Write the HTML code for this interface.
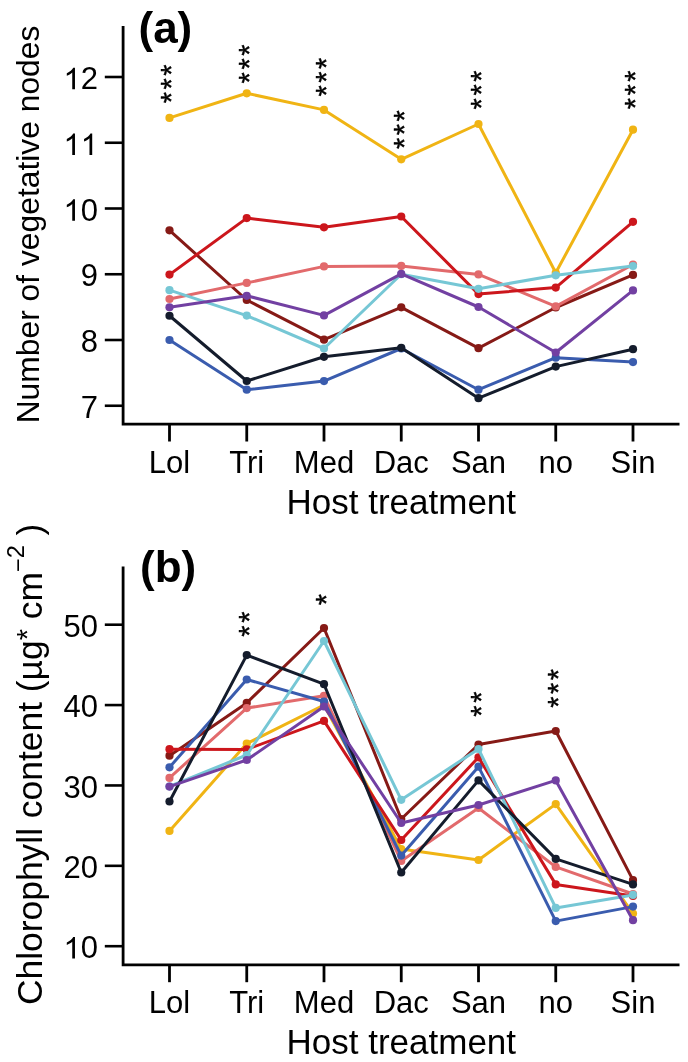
<!DOCTYPE html>
<html><head><meta charset="utf-8"><style>
html,body{margin:0;padding:0;background:#fff;}
svg{display:block;will-change:transform;}
.t{font-family:"Liberation Sans",sans-serif;font-size:31px;fill:#000;}
.tt{font-family:"Liberation Sans",sans-serif;font-size:35px;fill:#000;}
.ya{font-family:"Liberation Sans",sans-serif;font-size:31.8px;fill:#000;}
.yb{font-family:"Liberation Sans",sans-serif;font-size:35.4px;fill:#000;}
.pl{font-family:"Liberation Sans",sans-serif;font-size:44px;font-weight:bold;fill:#000;}
.st{font-family:"Liberation Sans",sans-serif;font-size:29px;fill:#000;stroke:#000;stroke-width:0.4px;}
</style></head><body>
<svg width="688" height="1062" viewBox="0 0 688 1062">
<rect width="688" height="1062" fill="#fff"/>
<path d="M123.1,26 V424.1 H679.5" fill="none" stroke="#000" stroke-width="2.8" stroke-linejoin="miter" stroke-linecap="butt"/>
<line x1="104.8" y1="405.75" x2="123.1" y2="405.75" stroke="#000" stroke-width="2.6"/>
<line x1="104.8" y1="340.0" x2="123.1" y2="340.0" stroke="#000" stroke-width="2.6"/>
<line x1="104.8" y1="274.25" x2="123.1" y2="274.25" stroke="#000" stroke-width="2.6"/>
<line x1="104.8" y1="208.5" x2="123.1" y2="208.5" stroke="#000" stroke-width="2.6"/>
<line x1="104.8" y1="142.75" x2="123.1" y2="142.75" stroke="#000" stroke-width="2.6"/>
<line x1="104.8" y1="77.0" x2="123.1" y2="77.0" stroke="#000" stroke-width="2.6"/>
<line x1="169.5" y1="424.1" x2="169.5" y2="441.5" stroke="#000" stroke-width="2.8"/>
<line x1="246.75" y1="424.1" x2="246.75" y2="441.5" stroke="#000" stroke-width="2.8"/>
<line x1="324" y1="424.1" x2="324" y2="441.5" stroke="#000" stroke-width="2.8"/>
<line x1="401.25" y1="424.1" x2="401.25" y2="441.5" stroke="#000" stroke-width="2.8"/>
<line x1="478.5" y1="424.1" x2="478.5" y2="441.5" stroke="#000" stroke-width="2.8"/>
<line x1="555.75" y1="424.1" x2="555.75" y2="441.5" stroke="#000" stroke-width="2.8"/>
<line x1="633" y1="424.1" x2="633" y2="441.5" stroke="#000" stroke-width="2.8"/>
<text x="80.66" y="417.95" class="t">7</text>
<text x="80.66" y="352.20" class="t">8</text>
<text x="80.66" y="286.45" class="t">9</text>
<path transform="translate(63.42,220.70) scale(0.015137,-0.015137)" d="M763 0H583V1098Q518 1038 412 979Q307 920 223 890V1057Q374 1124 487 1221Q600 1318 647 1409H763Z" fill="#000"/><text x="80.66" y="220.70" class="t">0</text>
<path transform="translate(63.42,154.95) scale(0.015137,-0.015137)" d="M763 0H583V1098Q518 1038 412 979Q307 920 223 890V1057Q374 1124 487 1221Q600 1318 647 1409H763Z" fill="#000"/><path transform="translate(80.66,154.95) scale(0.015137,-0.015137)" d="M763 0H583V1098Q518 1038 412 979Q307 920 223 890V1057Q374 1124 487 1221Q600 1318 647 1409H763Z" fill="#000"/>
<path transform="translate(63.42,89.20) scale(0.015137,-0.015137)" d="M763 0H583V1098Q518 1038 412 979Q307 920 223 890V1057Q374 1124 487 1221Q600 1318 647 1409H763Z" fill="#000"/><text x="80.66" y="89.20" class="t">2</text>
<text x="169.5" y="473" text-anchor="middle" class="t">Lol</text>
<text x="246.75" y="473" text-anchor="middle" class="t">Tri</text>
<text x="324" y="473" text-anchor="middle" class="t">Med</text>
<text x="401.25" y="473" text-anchor="middle" class="t">Dac</text>
<text x="478.5" y="473" text-anchor="middle" class="t">San</text>
<text x="555.75" y="473" text-anchor="middle" class="t">no</text>
<text x="633" y="473" text-anchor="middle" class="t">Sin</text>
<text x="401.3" y="513.5" text-anchor="middle" class="tt">Host treatment</text>
<path d="M123.1,566.6 V964.8000000000001 H679.5" fill="none" stroke="#000" stroke-width="2.8" stroke-linejoin="miter" stroke-linecap="butt"/>
<line x1="104.8" y1="946.2" x2="123.1" y2="946.2" stroke="#000" stroke-width="2.6"/>
<line x1="104.8" y1="865.825" x2="123.1" y2="865.825" stroke="#000" stroke-width="2.6"/>
<line x1="104.8" y1="785.45" x2="123.1" y2="785.45" stroke="#000" stroke-width="2.6"/>
<line x1="104.8" y1="705.075" x2="123.1" y2="705.075" stroke="#000" stroke-width="2.6"/>
<line x1="104.8" y1="624.7" x2="123.1" y2="624.7" stroke="#000" stroke-width="2.6"/>
<line x1="169.5" y1="964.8000000000001" x2="169.5" y2="982.2" stroke="#000" stroke-width="2.8"/>
<line x1="246.75" y1="964.8000000000001" x2="246.75" y2="982.2" stroke="#000" stroke-width="2.8"/>
<line x1="324" y1="964.8000000000001" x2="324" y2="982.2" stroke="#000" stroke-width="2.8"/>
<line x1="401.25" y1="964.8000000000001" x2="401.25" y2="982.2" stroke="#000" stroke-width="2.8"/>
<line x1="478.5" y1="964.8000000000001" x2="478.5" y2="982.2" stroke="#000" stroke-width="2.8"/>
<line x1="555.75" y1="964.8000000000001" x2="555.75" y2="982.2" stroke="#000" stroke-width="2.8"/>
<line x1="633" y1="964.8000000000001" x2="633" y2="982.2" stroke="#000" stroke-width="2.8"/>
<path transform="translate(63.42,958.40) scale(0.015137,-0.015137)" d="M763 0H583V1098Q518 1038 412 979Q307 920 223 890V1057Q374 1124 487 1221Q600 1318 647 1409H763Z" fill="#000"/><text x="80.66" y="958.40" class="t">0</text>
<text x="63.42" y="878.03" class="t">2</text><text x="80.66" y="878.03" class="t">0</text>
<text x="63.42" y="797.65" class="t">3</text><text x="80.66" y="797.65" class="t">0</text>
<text x="63.42" y="717.28" class="t">4</text><text x="80.66" y="717.28" class="t">0</text>
<text x="63.42" y="636.90" class="t">5</text><text x="80.66" y="636.90" class="t">0</text>
<text x="169.5" y="1012.7" text-anchor="middle" class="t">Lol</text>
<text x="246.75" y="1012.7" text-anchor="middle" class="t">Tri</text>
<text x="324" y="1012.7" text-anchor="middle" class="t">Med</text>
<text x="401.25" y="1012.7" text-anchor="middle" class="t">Dac</text>
<text x="478.5" y="1012.7" text-anchor="middle" class="t">San</text>
<text x="555.75" y="1012.7" text-anchor="middle" class="t">no</text>
<text x="633" y="1012.7" text-anchor="middle" class="t">Sin</text>
<text x="401.3" y="1054.2" text-anchor="middle" class="tt">Host treatment</text>
<polyline points="169.50,117.90 246.75,93.30 324.00,109.90 401.25,159.30 478.50,124.00 555.75,272.80 633.00,129.70" fill="none" stroke="#F0B414" stroke-width="3.0" stroke-linejoin="round"/>
<circle cx="169.50" cy="117.90" r="4.1" fill="#F0B414"/>
<circle cx="246.75" cy="93.30" r="4.1" fill="#F0B414"/>
<circle cx="324.00" cy="109.90" r="4.1" fill="#F0B414"/>
<circle cx="401.25" cy="159.30" r="4.1" fill="#F0B414"/>
<circle cx="478.50" cy="124.00" r="4.1" fill="#F0B414"/>
<circle cx="555.75" cy="272.80" r="4.1" fill="#F0B414"/>
<circle cx="633.00" cy="129.70" r="4.1" fill="#F0B414"/>
<polyline points="169.50,230.30 246.75,300.00 324.00,339.70 401.25,307.30 478.50,348.20 555.75,307.50 633.00,274.90" fill="none" stroke="#861A16" stroke-width="3.0" stroke-linejoin="round"/>
<circle cx="169.50" cy="230.30" r="4.1" fill="#861A16"/>
<circle cx="246.75" cy="300.00" r="4.1" fill="#861A16"/>
<circle cx="324.00" cy="339.70" r="4.1" fill="#861A16"/>
<circle cx="401.25" cy="307.30" r="4.1" fill="#861A16"/>
<circle cx="478.50" cy="348.20" r="4.1" fill="#861A16"/>
<circle cx="555.75" cy="307.50" r="4.1" fill="#861A16"/>
<circle cx="633.00" cy="274.90" r="4.1" fill="#861A16"/>
<polyline points="169.50,299.00 246.75,282.90 324.00,266.40 401.25,265.90 478.50,274.40 555.75,306.40 633.00,264.50" fill="none" stroke="#E26A6C" stroke-width="3.0" stroke-linejoin="round"/>
<circle cx="169.50" cy="299.00" r="4.1" fill="#E26A6C"/>
<circle cx="246.75" cy="282.90" r="4.1" fill="#E26A6C"/>
<circle cx="324.00" cy="266.40" r="4.1" fill="#E26A6C"/>
<circle cx="401.25" cy="265.90" r="4.1" fill="#E26A6C"/>
<circle cx="478.50" cy="274.40" r="4.1" fill="#E26A6C"/>
<circle cx="555.75" cy="306.40" r="4.1" fill="#E26A6C"/>
<circle cx="633.00" cy="264.50" r="4.1" fill="#E26A6C"/>
<polyline points="169.50,340.00 246.75,389.70 324.00,381.10 401.25,348.50 478.50,389.70 555.75,357.70 633.00,362.10" fill="none" stroke="#3A5CAE" stroke-width="3.0" stroke-linejoin="round"/>
<circle cx="169.50" cy="340.00" r="4.1" fill="#3A5CAE"/>
<circle cx="246.75" cy="389.70" r="4.1" fill="#3A5CAE"/>
<circle cx="324.00" cy="381.10" r="4.1" fill="#3A5CAE"/>
<circle cx="401.25" cy="348.50" r="4.1" fill="#3A5CAE"/>
<circle cx="478.50" cy="389.70" r="4.1" fill="#3A5CAE"/>
<circle cx="555.75" cy="357.70" r="4.1" fill="#3A5CAE"/>
<circle cx="633.00" cy="362.10" r="4.1" fill="#3A5CAE"/>
<polyline points="169.50,274.60 246.75,218.10 324.00,227.30 401.25,216.50 478.50,294.10 555.75,287.60 633.00,221.80" fill="none" stroke="#CC161C" stroke-width="3.0" stroke-linejoin="round"/>
<circle cx="169.50" cy="274.60" r="4.1" fill="#CC161C"/>
<circle cx="246.75" cy="218.10" r="4.1" fill="#CC161C"/>
<circle cx="324.00" cy="227.30" r="4.1" fill="#CC161C"/>
<circle cx="401.25" cy="216.50" r="4.1" fill="#CC161C"/>
<circle cx="478.50" cy="294.10" r="4.1" fill="#CC161C"/>
<circle cx="555.75" cy="287.60" r="4.1" fill="#CC161C"/>
<circle cx="633.00" cy="221.80" r="4.1" fill="#CC161C"/>
<polyline points="169.50,290.20 246.75,315.60 324.00,348.50 401.25,274.25 478.50,288.80 555.75,275.30 633.00,266.00" fill="none" stroke="#76C7D5" stroke-width="3.0" stroke-linejoin="round"/>
<circle cx="169.50" cy="290.20" r="4.1" fill="#76C7D5"/>
<circle cx="246.75" cy="315.60" r="4.1" fill="#76C7D5"/>
<circle cx="324.00" cy="348.50" r="4.1" fill="#76C7D5"/>
<circle cx="401.25" cy="274.25" r="4.1" fill="#76C7D5"/>
<circle cx="478.50" cy="288.80" r="4.1" fill="#76C7D5"/>
<circle cx="555.75" cy="275.30" r="4.1" fill="#76C7D5"/>
<circle cx="633.00" cy="266.00" r="4.1" fill="#76C7D5"/>
<polyline points="169.50,315.75 246.75,381.00 324.00,356.80 401.25,347.80 478.50,398.20 555.75,366.60 633.00,349.20" fill="none" stroke="#141C2C" stroke-width="3.0" stroke-linejoin="round"/>
<circle cx="169.50" cy="315.75" r="4.1" fill="#141C2C"/>
<circle cx="246.75" cy="381.00" r="4.1" fill="#141C2C"/>
<circle cx="324.00" cy="356.80" r="4.1" fill="#141C2C"/>
<circle cx="401.25" cy="347.80" r="4.1" fill="#141C2C"/>
<circle cx="478.50" cy="398.20" r="4.1" fill="#141C2C"/>
<circle cx="555.75" cy="366.60" r="4.1" fill="#141C2C"/>
<circle cx="633.00" cy="349.20" r="4.1" fill="#141C2C"/>
<polyline points="169.50,307.25 246.75,295.80 324.00,315.40 401.25,273.90 478.50,307.00 555.75,352.50 633.00,290.40" fill="none" stroke="#7240A2" stroke-width="3.0" stroke-linejoin="round"/>
<circle cx="169.50" cy="307.25" r="4.1" fill="#7240A2"/>
<circle cx="246.75" cy="295.80" r="4.1" fill="#7240A2"/>
<circle cx="324.00" cy="315.40" r="4.1" fill="#7240A2"/>
<circle cx="401.25" cy="273.90" r="4.1" fill="#7240A2"/>
<circle cx="478.50" cy="307.00" r="4.1" fill="#7240A2"/>
<circle cx="555.75" cy="352.50" r="4.1" fill="#7240A2"/>
<circle cx="633.00" cy="290.40" r="4.1" fill="#7240A2"/>
<polyline points="169.50,830.90 246.75,743.60 324.00,705.00 401.25,849.00 478.50,860.00 555.75,804.10 633.00,913.60" fill="none" stroke="#F0B414" stroke-width="3.0" stroke-linejoin="round"/>
<circle cx="169.50" cy="830.90" r="4.1" fill="#F0B414"/>
<circle cx="246.75" cy="743.60" r="4.1" fill="#F0B414"/>
<circle cx="324.00" cy="705.00" r="4.1" fill="#F0B414"/>
<circle cx="401.25" cy="849.00" r="4.1" fill="#F0B414"/>
<circle cx="478.50" cy="860.00" r="4.1" fill="#F0B414"/>
<circle cx="555.75" cy="804.10" r="4.1" fill="#F0B414"/>
<circle cx="633.00" cy="913.60" r="4.1" fill="#F0B414"/>
<polyline points="169.50,755.70 246.75,702.90 324.00,628.00 401.25,819.00 478.50,744.50 555.75,731.00 633.00,880.10" fill="none" stroke="#861A16" stroke-width="3.0" stroke-linejoin="round"/>
<circle cx="169.50" cy="755.70" r="4.1" fill="#861A16"/>
<circle cx="246.75" cy="702.90" r="4.1" fill="#861A16"/>
<circle cx="324.00" cy="628.00" r="4.1" fill="#861A16"/>
<circle cx="401.25" cy="819.00" r="4.1" fill="#861A16"/>
<circle cx="478.50" cy="744.50" r="4.1" fill="#861A16"/>
<circle cx="555.75" cy="731.00" r="4.1" fill="#861A16"/>
<circle cx="633.00" cy="880.10" r="4.1" fill="#861A16"/>
<polyline points="169.50,777.90 246.75,708.10 324.00,695.80 401.25,861.00 478.50,808.00 555.75,866.90 633.00,894.00" fill="none" stroke="#E26A6C" stroke-width="3.0" stroke-linejoin="round"/>
<circle cx="169.50" cy="777.90" r="4.1" fill="#E26A6C"/>
<circle cx="246.75" cy="708.10" r="4.1" fill="#E26A6C"/>
<circle cx="324.00" cy="695.80" r="4.1" fill="#E26A6C"/>
<circle cx="401.25" cy="861.00" r="4.1" fill="#E26A6C"/>
<circle cx="478.50" cy="808.00" r="4.1" fill="#E26A6C"/>
<circle cx="555.75" cy="866.90" r="4.1" fill="#E26A6C"/>
<circle cx="633.00" cy="894.00" r="4.1" fill="#E26A6C"/>
<polyline points="169.50,767.30 246.75,679.50 324.00,701.50 401.25,855.60 478.50,766.70 555.75,921.10 633.00,906.60" fill="none" stroke="#3A5CAE" stroke-width="3.0" stroke-linejoin="round"/>
<circle cx="169.50" cy="767.30" r="4.1" fill="#3A5CAE"/>
<circle cx="246.75" cy="679.50" r="4.1" fill="#3A5CAE"/>
<circle cx="324.00" cy="701.50" r="4.1" fill="#3A5CAE"/>
<circle cx="401.25" cy="855.60" r="4.1" fill="#3A5CAE"/>
<circle cx="478.50" cy="766.70" r="4.1" fill="#3A5CAE"/>
<circle cx="555.75" cy="921.10" r="4.1" fill="#3A5CAE"/>
<circle cx="633.00" cy="906.60" r="4.1" fill="#3A5CAE"/>
<polyline points="169.50,749.20 246.75,749.40 324.00,720.90 401.25,840.00 478.50,757.30 555.75,884.40 633.00,896.00" fill="none" stroke="#CC161C" stroke-width="3.0" stroke-linejoin="round"/>
<circle cx="169.50" cy="749.20" r="4.1" fill="#CC161C"/>
<circle cx="246.75" cy="749.40" r="4.1" fill="#CC161C"/>
<circle cx="324.00" cy="720.90" r="4.1" fill="#CC161C"/>
<circle cx="401.25" cy="840.00" r="4.1" fill="#CC161C"/>
<circle cx="478.50" cy="757.30" r="4.1" fill="#CC161C"/>
<circle cx="555.75" cy="884.40" r="4.1" fill="#CC161C"/>
<circle cx="633.00" cy="896.00" r="4.1" fill="#CC161C"/>
<polyline points="169.50,786.50 246.75,755.00 324.00,641.00 401.25,799.80 478.50,749.00 555.75,907.90 633.00,894.90" fill="none" stroke="#76C7D5" stroke-width="3.0" stroke-linejoin="round"/>
<circle cx="169.50" cy="786.50" r="4.1" fill="#76C7D5"/>
<circle cx="246.75" cy="755.00" r="4.1" fill="#76C7D5"/>
<circle cx="324.00" cy="641.00" r="4.1" fill="#76C7D5"/>
<circle cx="401.25" cy="799.80" r="4.1" fill="#76C7D5"/>
<circle cx="478.50" cy="749.00" r="4.1" fill="#76C7D5"/>
<circle cx="555.75" cy="907.90" r="4.1" fill="#76C7D5"/>
<circle cx="633.00" cy="894.90" r="4.1" fill="#76C7D5"/>
<polyline points="169.50,801.50 246.75,655.10 324.00,684.20 401.25,872.50 478.50,780.40 555.75,858.90 633.00,884.40" fill="none" stroke="#141C2C" stroke-width="3.0" stroke-linejoin="round"/>
<circle cx="169.50" cy="801.50" r="4.1" fill="#141C2C"/>
<circle cx="246.75" cy="655.10" r="4.1" fill="#141C2C"/>
<circle cx="324.00" cy="684.20" r="4.1" fill="#141C2C"/>
<circle cx="401.25" cy="872.50" r="4.1" fill="#141C2C"/>
<circle cx="478.50" cy="780.40" r="4.1" fill="#141C2C"/>
<circle cx="555.75" cy="858.90" r="4.1" fill="#141C2C"/>
<circle cx="633.00" cy="884.40" r="4.1" fill="#141C2C"/>
<polyline points="169.50,786.60 246.75,760.00 324.00,706.50 401.25,823.00 478.50,805.00 555.75,780.40 633.00,920.20" fill="none" stroke="#7240A2" stroke-width="3.0" stroke-linejoin="round"/>
<circle cx="169.50" cy="786.60" r="4.1" fill="#7240A2"/>
<circle cx="246.75" cy="760.00" r="4.1" fill="#7240A2"/>
<circle cx="324.00" cy="706.50" r="4.1" fill="#7240A2"/>
<circle cx="401.25" cy="823.00" r="4.1" fill="#7240A2"/>
<circle cx="478.50" cy="805.00" r="4.1" fill="#7240A2"/>
<circle cx="555.75" cy="780.40" r="4.1" fill="#7240A2"/>
<circle cx="633.00" cy="920.20" r="4.1" fill="#7240A2"/>
<text x="138.5" y="43" class="pl">(a)</text>
<text x="140" y="582.3" class="pl">(b)</text>
<text transform="translate(38.8,224.5) rotate(-90)" text-anchor="middle" class="ya">Number of vegetative nodes</text>
<text transform="translate(41.8,1005) rotate(-90)" class="yb">Chlorophyll content (µg<tspan font-size="29" dy="-4.5">*</tspan><tspan dy="4.5"> cm</tspan><tspan dy="-16" font-size="23.5">−</tspan><tspan dy="-2.3" font-size="23.5">2</tspan><tspan dy="18.3"> )</tspan></text>
<text transform="translate(166.35,70) rotate(-90)" x="-5.65" y="14.86" class="st">*</text>
<text transform="translate(166.35,83.9) rotate(-90)" x="-5.65" y="14.86" class="st">*</text>
<text transform="translate(166.35,97.7) rotate(-90)" x="-5.65" y="14.86" class="st">*</text>
<text transform="translate(244,50.1) rotate(-90)" x="-5.65" y="14.86" class="st">*</text>
<text transform="translate(244,63.9) rotate(-90)" x="-5.65" y="14.86" class="st">*</text>
<text transform="translate(244,77.8) rotate(-90)" x="-5.65" y="14.86" class="st">*</text>
<text transform="translate(321.2,63.3) rotate(-90)" x="-5.65" y="14.86" class="st">*</text>
<text transform="translate(321.2,77.1) rotate(-90)" x="-5.65" y="14.86" class="st">*</text>
<text transform="translate(321.2,90.9) rotate(-90)" x="-5.65" y="14.86" class="st">*</text>
<text transform="translate(398.9,115.75) rotate(-90)" x="-5.65" y="14.86" class="st">*</text>
<text transform="translate(398.9,129.6) rotate(-90)" x="-5.65" y="14.86" class="st">*</text>
<text transform="translate(398.9,143.25) rotate(-90)" x="-5.65" y="14.86" class="st">*</text>
<text transform="translate(476,76.1) rotate(-90)" x="-5.65" y="14.86" class="st">*</text>
<text transform="translate(476,89.9) rotate(-90)" x="-5.65" y="14.86" class="st">*</text>
<text transform="translate(476,103.8) rotate(-90)" x="-5.65" y="14.86" class="st">*</text>
<text transform="translate(630.6,76.1) rotate(-90)" x="-5.65" y="14.86" class="st">*</text>
<text transform="translate(630.6,89.9) rotate(-90)" x="-5.65" y="14.86" class="st">*</text>
<text transform="translate(630.6,103.7) rotate(-90)" x="-5.65" y="14.86" class="st">*</text>
<text transform="translate(244.1,617.2) rotate(-90)" x="-5.65" y="14.86" class="st">*</text>
<text transform="translate(244.1,631.2) rotate(-90)" x="-5.65" y="14.86" class="st">*</text>
<text transform="translate(321.2,599.7) rotate(-90)" x="-5.65" y="14.86" class="st">*</text>
<text transform="translate(475.9,697.2) rotate(-90)" x="-5.65" y="14.86" class="st">*</text>
<text transform="translate(475.9,711.2) rotate(-90)" x="-5.65" y="14.86" class="st">*</text>
<text transform="translate(552.9,674.5) rotate(-90)" x="-5.65" y="14.86" class="st">*</text>
<text transform="translate(552.9,688.3) rotate(-90)" x="-5.65" y="14.86" class="st">*</text>
<text transform="translate(552.9,702) rotate(-90)" x="-5.65" y="14.86" class="st">*</text>
</svg>
</body></html>
